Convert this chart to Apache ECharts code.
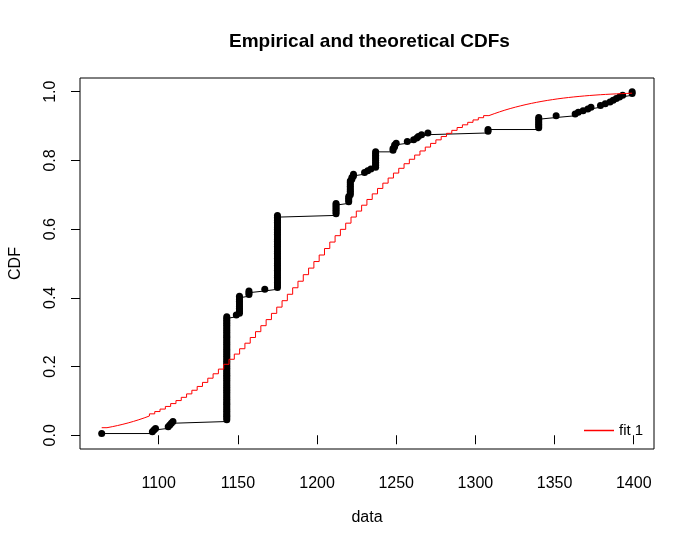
<!DOCTYPE html>
<html>
<head>
<meta charset="utf-8">
<script src="https://cdn.jsdelivr.net/npm/echarts@6/dist/echarts.min.js"></script>
<style>
html,body{margin:0;padding:0;background:#fff;}
#chart{width:695px;height:547px;}
</style>
</head>
<body>
<div id="chart"></div>
<script>
// Empirical data: distinct observed values and how many times each occurs
const obsValues = [1064,1096,1097,1098,1106,1107,1108,1109,1143,1149,1151,1157,1167,1175,1212,1220,1221,1222,1223,1230,1232,1234,1237,1248,1249,1250,1257,1261,1263,1264,1266,1270,1308,1340,1351,1363,1365,1368,1371,1373,1379,1382,1385,1387,1389,1391,1393,1399];
const obsCounts = [1,1,1,1,1,1,1,1,61,1,11,3,1,43,7,4,9,2,2,1,1,1,10,2,2,1,1,1,1,1,1,1,2,7,1,1,1,1,1,1,1,1,1,1,1,1,1,2];

// Theoretical (fit 1) CDF
const theoX = [1064.00,1067.35,1070.70,1074.05,1077.40,1080.75,1084.10,1087.45,1090.80,1094.15,
1097.50,1100.85,1104.20,1107.55,1110.90,1114.25,1117.60,1120.95,1124.30,1127.65,
1131.00,1134.35,1137.70,1141.05,1144.40,1147.75,1151.10,1154.45,1157.80,1161.15,
1164.50,1167.85,1171.20,1174.55,1177.90,1181.25,1184.60,1187.95,1191.30,1194.65,
1198.00,1201.35,1204.70,1208.05,1211.40,1214.75,1218.10,1221.45,1224.80,1228.15,
1231.50,1234.85,1238.20,1241.55,1244.90,1248.25,1251.60,1254.95,1258.30,1261.65,
1265.00,1268.35,1271.70,1275.05,1278.40,1281.75,1285.10,1288.45,1291.80,1295.15,
1298.50,1301.85,1305.20,1308.55,1311.90,1315.25,1318.60,1321.95,1325.30,1328.65,
1332.00,1335.35,1338.70,1342.05,1345.40,1348.75,1352.10,1355.45,1358.80,1362.15,
1365.50,1368.85,1372.20,1375.55,1378.90,1382.25,1385.60,1388.95,1392.30,1395.65,1399.00];
const theoCDF = [0.0220,0.0250,0.0283,0.0320,0.0360,0.0404,0.0452,0.0504,0.0561,0.0623,
0.0690,0.0762,0.0839,0.0922,0.1010,0.1104,0.1204,0.1310,0.1421,0.1539,
0.1661,0.1790,0.1926,0.2066,0.2212,0.2363,0.2519,0.2680,0.2846,0.3016,
0.3190,0.3367,0.3548,0.3730,0.3917,0.4104,0.4294,0.4484,0.4675,0.4866,
0.5057,0.5247,0.5436,0.5624,0.5810,0.5994,0.6174,0.6352,0.6526,0.6697,
0.6864,0.7027,0.7185,0.7339,0.7488,0.7632,0.7771,0.7905,0.8034,0.8157,
0.8276,0.8389,0.8496,0.8599,0.8696,0.8789,0.8876,0.8959,0.9037,0.9110,
0.9180,0.9244,0.9305,0.9361,0.9414,0.9464,0.9510,0.9552,0.9591,0.9628,
0.9661,0.9692,0.9721,0.9747,0.9771,0.9794,0.9814,0.9832,0.9849,0.9864,
0.9878,0.9891,0.9902,0.9913,0.9922,0.9931,0.9938,0.9945,0.9951,0.9957,0.9962];

const xTicks = [1100,1150,1200,1250,1300,1350,1400];
const yTicks = [0,0.2,0.4,0.6,0.8,1.0];

// Build sorted sample and empirical CDF points (x_i, i/n)
const sample = [];
obsValues.forEach((v, k) => { for (let j = 0; j < obsCounts[k]; j++) sample.push(v); });
const n = sample.length;
const empPts = sample.map((v, i) => [v, (i + 1) / n]);
const theoPts = theoX.map((x, i) => [x, theoCDF[i]]);

const FONT = '"Liberation Sans", Arial, sans-serif';
const chart = echarts.init(document.getElementById('chart'), null, {renderer: 'canvas'});
chart.setOption({
  animation: false,
  backgroundColor: '#ffffff',
  title: {
    text: 'Empirical and theoretical CDFs',
    left: 224,
    top: 27,
    textStyle: {fontFamily: FONT, fontSize: 19, fontWeight: 'bold', color: '#000'}
  },
  legend: {
    data: [{name: 'fit 1', icon: 'rect'}],
    left: 579,
    top: 418,
    itemWidth: 30,
    itemHeight: 1.5,
    itemGap: 10,
    textStyle: {fontFamily: FONT, fontSize: 15, color: '#000'},
    selectedMode: false
  },
  grid: {
    left: 78, right: 41, top: 78, bottom: 98,
    show: true, borderColor: '#000', borderWidth: 1, backgroundColor: 'transparent'
  },
  xAxis: {
    type: 'value',
    min: 1050.3, max: 1412.8,
    name: 'data',
    nameLocation: 'middle',
    nameGap: 61,
    nameTextStyle: {fontFamily: FONT, fontSize: 16, color: '#000'},
    axisLine: {show: false},
    splitLine: {show: false},
    axisTick: {show: true, inside: false, length: 9, customValues: xTicks, lineStyle: {color: '#000'}},
    axisLabel: {customValues: xTicks, margin: 27, fontFamily: FONT, fontSize: 16, color: '#000',
      formatter: v => String(v)}
  },
  yAxis: {
    type: 'value',
    min: -0.04, max: 1.04,
    name: 'CDF',
    nameLocation: 'middle',
    nameGap: 56,
    nameTextStyle: {fontFamily: FONT, fontSize: 16, color: '#000'},
    axisLine: {show: false},
    splitLine: {show: false},
    axisTick: {show: true, inside: false, length: 9, customValues: yTicks, lineStyle: {color: '#000'}},
    axisLabel: {customValues: yTicks, rotate: 90, margin: 21, fontFamily: FONT, fontSize: 16, color: '#000',
      formatter: v => v.toFixed(1)}
  },
  series: [
    {
      name: 'empirical',
      type: 'line',
      data: empPts,
      step: 'end',
      showSymbol: false,
      lineStyle: {color: '#000', width: 1},
      itemStyle: {color: '#000'},
      z: 2
    },
    {
      name: 'points',
      type: 'scatter',
      data: empPts,
      symbol: 'circle',
      symbolSize: 7,
      itemStyle: {color: '#000', opacity: 1},
      z: 3
    },
    {
      name: 'fit 1',
      type: 'line',
      data: theoPts,
      step: 'end',
      showSymbol: false,
      lineStyle: {color: '#ff0000', width: 1},
      itemStyle: {color: '#ff0000'},
      z: 4
    }
  ]
});
</script>
</body>
</html>
